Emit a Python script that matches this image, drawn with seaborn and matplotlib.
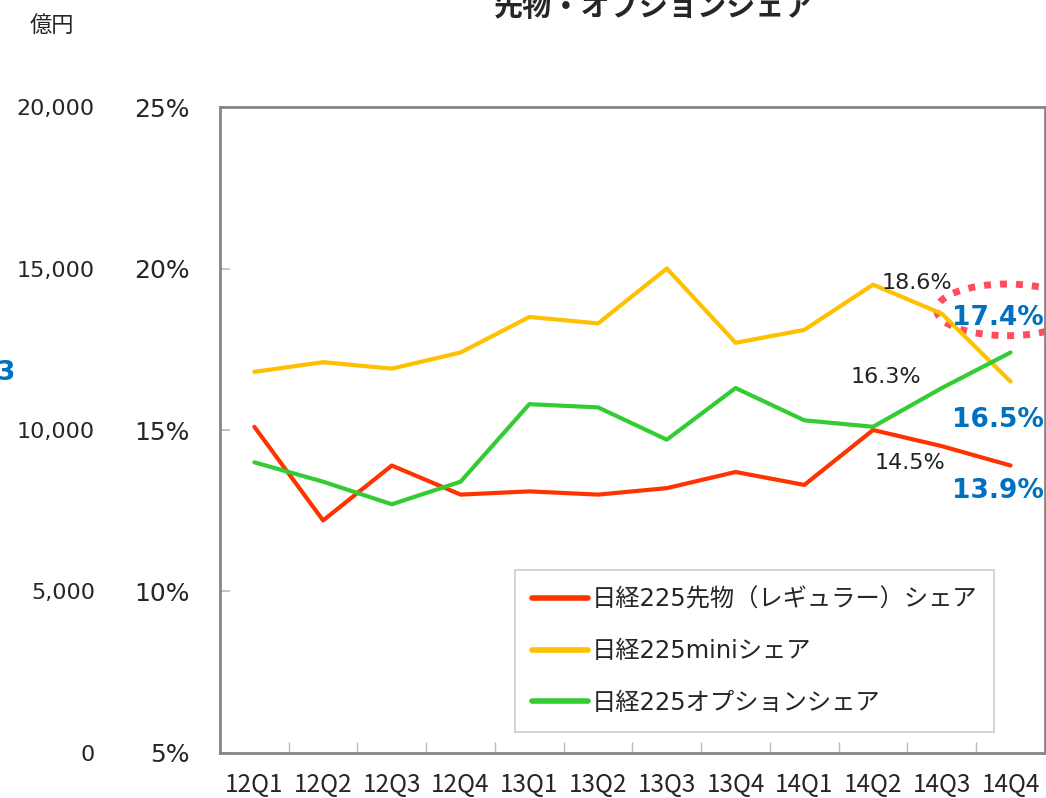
import pandas as pd
import seaborn as sns
import matplotlib.pyplot as plt
from matplotlib.patches import Ellipse
from matplotlib.ticker import FixedLocator

# quarters and share series (%)
quarters = ["12Q1", "12Q2", "12Q3", "12Q4", "13Q1", "13Q2",
            "13Q3", "13Q4", "14Q1", "14Q2", "14Q3", "14Q4"]
regular_share = [15.1, 12.2, 13.9, 13.0, 13.1, 13.0, 13.2, 13.7, 13.3, 15.0, 14.5, 13.9]
mini_share = [16.8, 17.1, 16.9, 17.4, 18.5, 18.3, 20.0, 17.7, 18.1, 19.5, 18.6, 16.5]
option_share = [14.0, 13.4, 12.7, 13.4, 15.8, 15.7, 14.7, 16.3, 15.3, 15.1, 16.3, 17.4]
series_names = ["日経225先物（レギュラー）シェア", "日経225miniシェア", "日経225オプションシェア"]
colors = ["#FF3300", "#FFC000", "#33CC33"]
left_ticks = [0, 5000, 10000, 15000, 20000]

sns.set_theme(style="white")
plt.rcParams['font.family'] = ['DejaVu Sans', 'Noto Sans CJK JP']

rows = []
for name, vals in zip(series_names, [regular_share, mini_share, option_share]):
    for i, (q, v) in enumerate(zip(quarters, vals)):
        rows.append({"idx": i, "quarter": q, "share": v, "series": name})
df = pd.DataFrame(rows)

fig = plt.figure(figsize=(10.46, 7.98), dpi=100)
ax = fig.add_axes([0.2103, 0.0564, 0.7887, 0.8095])

sns.lineplot(data=df, x="idx", y="share", hue="series", hue_order=series_names,
             palette=colors, linewidth=3, ax=ax, sort=False)

ax.set_xlim(-0.5, len(quarters) - 0.5)
ax.set_ylim(5, 25)
ax.set_xlabel("")
ax.set_ylabel("")
ax.set_xticks(range(len(quarters)))
ax.set_xticklabels(quarters, fontsize=17.5, family=["Noto Sans CJK JP"])
ax.xaxis.set_minor_locator(FixedLocator([i + 0.5 for i in range(len(quarters) - 1)]))
ax.tick_params(axis="x", which="major", length=0, pad=14)
ax.tick_params(axis="x", which="minor", direction="in", length=8, color="#BBBBBB", bottom=True)
ax.set_yticks([5, 10, 15, 20, 25])
ax.set_yticklabels([f"{v}%" for v in [5, 10, 15, 20, 25]], fontsize=18)
ax.tick_params(axis="y", direction="in", length=7, color="#BBBBBB", left=True, pad=22)
for s in ax.spines.values():
    s.set_color("#868686")
    s.set_linewidth(2)

# outer amount axis (億円)
ax2 = fig.add_axes(ax.get_position(), frameon=False)
ax2.set_ylim(0, 20000)
ax2.set_xticks([])
ax2.set_yticks(left_ticks)
ax2.set_yticklabels([f"{v:,}" for v in left_ticks], fontsize=16)
ax2.tick_params(axis="y", length=0, pad=90)
ax2.patch.set_alpha(0)

leg = ax.legend(loc="lower left", bbox_to_anchor=(0.3576, 0.0325), borderaxespad=0,
                fontsize=17.5, frameon=True, fancybox=False, edgecolor="#BFBFBF",
                handlelength=2.3, handletextpad=0.15, labelspacing=1.15,
                borderpad=0.7, title=None)
leg.get_frame().set_linewidth(1.2)
for h in leg.get_lines():
    h.set_linewidth(4)
    h.set_solid_capstyle("round")

# annotations
ax.text(9.64, 19.55, "18.6%", fontsize=16, ha="center", va="center", color="#222222")
ax.text(9.19, 16.64, "16.3%", fontsize=16, ha="center", va="center", color="#222222")
ax.text(9.53, 13.98, "14.5%", fontsize=16, ha="center", va="center", color="#222222")
for y, s in [(18.47, "17.4%"), (15.31, "16.5%"), (13.11, "13.9%")]:
    ax.text(10.15, y, s, fontsize=19, fontweight="bold", ha="left", va="center",
            color="#0070C0", clip_on=False)
ax.add_patch(Ellipse((10.95, 18.72), 2.05, 1.6, fill=False, edgecolor="#FF4D5E",
                     linewidth=5, linestyle=(0, (1, 1.3)), clip_on=False))

fig.text(0.625, 0.99, "先物・オプションシェア", fontsize=21, fontweight="bold",
         ha="center", va="center")
fig.text(0.05, 0.968, "億円", fontsize=16, ha="center", va="center")
fig.text(-0.004, 0.533, "3", fontsize=19, fontweight="bold", color="#0070C0",
         ha="left", va="center")

fig.savefig("out.png", dpi=100)
